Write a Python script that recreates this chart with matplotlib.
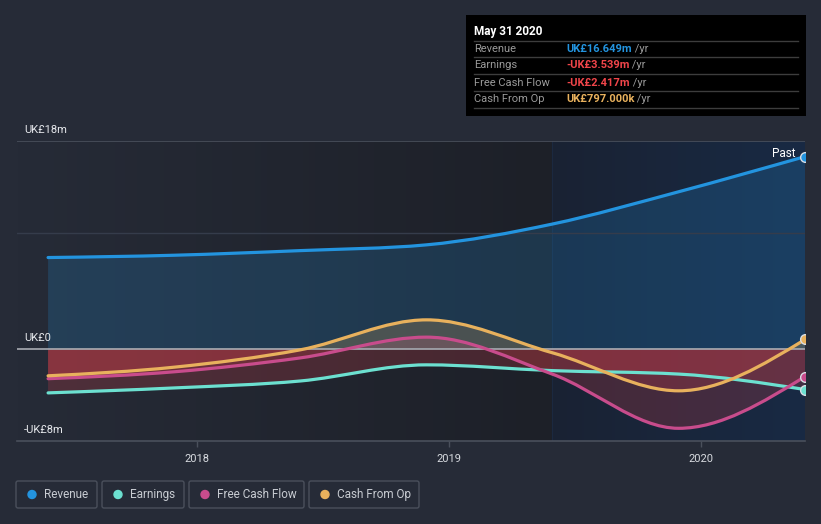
import matplotlib
matplotlib.use("Agg")
import matplotlib.pyplot as plt
import matplotlib.dates as mdates
import numpy as np
from matplotlib.path import Path
from matplotlib.patches import PathPatch, Rectangle, FancyBboxPatch, Circle
from matplotlib.colors import LinearSegmentedColormap

plt.rcParams['font.family'] = ['Roboto', 'DejaVu Sans']

# semi-annual trailing figures, UK£ millions
dates = ['2017-05-31', '2017-11-30', '2018-05-31', '2018-11-30',
         '2019-05-31', '2019-11-30', '2020-05-31']
revenue = [7.9, 8.1, 8.5, 9.0, 10.8, 13.6, 16.649]
earnings = [-3.83, -3.4, -2.8, -1.4, -1.9, -2.2, -3.539]
free_cash_flow = [-2.6, -2.0, -0.8, 1.0, -2.2, -6.9, -2.417]
cash_from_op = [-2.35, -1.6, -0.1, 2.5, -0.35, -3.65, 0.797]

series_names = ['Revenue', 'Earnings', 'Free Cash Flow', 'Cash From Op']
series_colors = ['#2394df', '#6ce0d0', '#c84c8c', '#e8b15d']

tooltip_date = 'May 31 2020'
tooltip_values = ['UK£16.649m', '-UK£3.539m', '-UK£2.417m', 'UK£797.000k']
tooltip_colors = ['#2394df', '#f0454a', '#f0454a', '#e8b15d']

y_ticks = [18, 0, -8]
y_labels = ['UK£18m', 'UK£0', '-UK£8m']

BG = '#262b37'
W, H = 821, 524


def monotone_slopes(x, y):
    h = np.diff(x)
    s = np.diff(y) / h
    m = np.zeros(len(y))
    for i in range(1, len(y) - 1):
        p = (s[i-1]*h[i] + s[i]*h[i-1]) / (h[i-1] + h[i])
        m[i] = (np.sign(s[i-1]) + np.sign(s[i])) * min(abs(s[i-1]), abs(s[i]), 0.5*abs(p))
    m[0] = (3*s[0] - m[1]) / 2
    m[-1] = (3*s[-1] - m[-2]) / 2
    return m


def smooth_path(x, y, closed=False):
    m = monotone_slopes(x, y)
    verts = [(x[0], y[0])]
    codes = [Path.MOVETO]
    for i in range(len(x) - 1):
        h = x[i+1] - x[i]
        verts += [(x[i] + h/3, y[i] + m[i]*h/3),
                  (x[i+1] - h/3, y[i+1] - m[i+1]*h/3),
                  (x[i+1], y[i+1])]
        codes += [Path.CURVE4]*3
    if closed:
        verts += [(x[-1], 0), (x[0], 0), (x[0], 0)]
        codes += [Path.LINETO, Path.LINETO, Path.CLOSEPOLY]
    return Path(verts, codes)


def main():
    fig = plt.figure(figsize=(W/100, H/100), dpi=100, facecolor=BG)
    ax = fig.add_axes([17/W, 1 - 441/H, 788/W, 300/H])
    ax.set_facecolor(BG)

    x = mdates.date2num(np.array(dates, dtype='datetime64[D]'))
    past_start = x[-3]
    x_left = mdates.date2num(np.datetime64('2017-04-16'))
    x_right = x[-1]
    y_lo, y_hi = -8, 18
    ax.set_xlim(x_left, x_right)
    ax.set_ylim(y_lo, y_hi)

    # background gradients
    grad = np.linspace(0, 1, 256).reshape(1, -1)
    cm_left = LinearSegmentedColormap.from_list('l', [BG, '#1d2028'])
    cm_past = LinearSegmentedColormap.from_list('p', ['#1a2233', '#182a44'])
    ax.imshow(grad, cmap=cm_left, aspect='auto', zorder=0,
              extent=[x_left, past_start, y_lo, y_hi])
    ax.imshow(grad, cmap=cm_past, aspect='auto', zorder=0,
              extent=[past_start, x_right, y_lo, y_hi])
    ax.axvline(past_start, color='#1b2940', lw=0.8, zorder=0.5)

    all_series = [revenue, earnings, free_cash_flow, cash_from_op]

    for vals, col in zip(all_series, series_colors):
        y = np.array(vals, dtype=float)
        area = smooth_path(x, y, closed=True)
        # positive part
        pos = PathPatch(area, facecolor=col, edgecolor='none',
                        alpha=0.2 if col == series_colors[0] else 0.22, zorder=1)
        ax.add_patch(pos)
        pos.set_clip_path(Rectangle((x_left, 0), x_right - x_left, y_hi,
                                    transform=ax.transData))
        # negative part
        neg = PathPatch(area, facecolor='#e0404a', edgecolor='none',
                        alpha=0.22, zorder=1)
        ax.add_patch(neg)
        neg.set_clip_path(Rectangle((x_left, y_lo), x_right - x_left, -y_lo,
                                    transform=ax.transData))

    # grid lines
    ax.axhline(10, color='#353c4b', lw=1, zorder=1.5)
    ax.axhline(18, color='#4a505c', lw=1.2, zorder=1.5)
    ax.axhline(0, color='#a8abb2', lw=1.2, zorder=1.5)

    for vals, col in zip(all_series, series_colors):
        y = np.array(vals, dtype=float)
        line = PathPatch(smooth_path(x, y), facecolor='none', edgecolor=col,
                         lw=2.3, capstyle='round', zorder=2)
        ax.add_patch(line)
        ax.plot(x[-1], y[-1], 'o', ms=7, mfc=col, mec='#d8dde4', mew=1,
                zorder=3)

    ax.annotate('Past', xy=(x[-1], revenue[-1]), xytext=(-7, 2.5),
                textcoords='offset points', ha='right', va='center',
                color='white', fontsize=8.5, zorder=4)

    # y labels inside the plot
    for v, lab in zip(y_ticks, y_labels):
        ax.annotate(lab, xy=(0.009, v), xycoords=('axes fraction', 'data'),
                    xytext=(0, 4), textcoords='offset points', va='bottom',
                    ha='left', color='#e6e8ec', fontsize=8)

    ax.set_yticks([])
    ax.xaxis.set_major_locator(mdates.YearLocator())
    ax.xaxis.set_major_formatter(mdates.DateFormatter('%Y'))
    ax.tick_params(axis='x', colors='#4a505c', length=4, width=1,
                   labelcolor='#d8dbe0', labelsize=8, pad=5)
    for side in ['top', 'left', 'right']:
        ax.spines[side].set_visible(False)
    ax.spines['bottom'].set_color('#4a505c')
    ax.spines['bottom'].set_linewidth(1.2)

    # overlay in pixel coordinates for tooltip and legend
    ov = fig.add_axes([0, 0, 1, 1])
    ov.set_xlim(0, W)
    ov.set_ylim(H, 0)
    ov.set_axis_off()
    ov.patch.set_alpha(0)

    ov.add_patch(Rectangle((466, 15), 340, 101, facecolor='black',
                           edgecolor='none'))
    ov.text(474, 31, tooltip_date, color='white', fontsize=8.5,
            fontweight='bold', va='center', ha='left')
    for yy in [40.5, 57.3, 74.3, 91.3, 108.3]:
        ov.plot([474, 798], [yy, yy], color='#3d3d3d', lw=1)
    for i, (name, val, vc) in enumerate(zip(series_names, tooltip_values,
                                            tooltip_colors)):
        yy = 48.5 + 17*i
        ov.text(474, yy, name, color='#9a9a9a', fontsize=8, va='center')
        t = ov.text(566, yy, val, color=vc, fontsize=8, va='center',
                    fontweight='bold')
        ov.annotate(' /yr', xy=(1, 0.5), xycoords=t, va='center',
                    ha='left', color='#9a9a9a', fontsize=8)

    # legend
    boxes = [(16, 97), (102, 184), (189, 304), (309, 419)]
    for (x0, x1), name, col in zip(boxes, series_names, series_colors):
        ov.add_patch(FancyBboxPatch((x0, 481), x1 - x0, 27,
                                    boxstyle='round,pad=0,rounding_size=2',
                                    facecolor='none', edgecolor='#4a505c',
                                    lw=1))
        ov.add_patch(Circle((x0 + 16, 494.5), 4, color=col))
        ov.text(x0 + 28, 494.5, name, color='#c8ccd2', fontsize=8.5,
                va='center', ha='left')

    fig.savefig('out.png', dpi=100, facecolor=BG)


if __name__ == '__main__':
    main()
